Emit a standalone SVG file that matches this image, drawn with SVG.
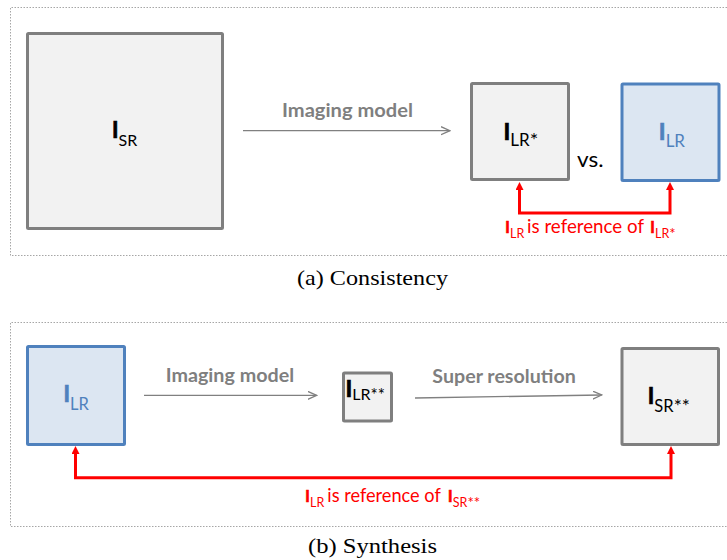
<svg xmlns="http://www.w3.org/2000/svg" width="727" height="560" viewBox="0 0 727 560">
<style>
text{font-family:Lato,"Open Sans","Liberation Sans",sans-serif}
.panel{fill:none;stroke:#a6a6a6;stroke-width:1;stroke-dasharray:1.5,1.5}
.gbox{fill:#f2f2f2;stroke:#7f7f7f;stroke-width:3}
.bbox{fill:#dce6f2;stroke:#4f81bd;stroke-width:3}
.blk{fill:#000}
.blu{fill:#4f81bd}
.red{fill:#ff0000}
.big{font-weight:bold;stroke-width:0.7}
.blk .big{stroke:#000}
.blu .big{stroke:#4f81bd}
.red .big{stroke:#ff0000;stroke-width:0.5}
.glbl{fill:#7f7f7f;font-weight:bold;font-size:18px}
.garrow{fill:none;stroke:#808080;stroke-width:1.3;marker-end:url(#open)}
.rarrow{fill:none;stroke:#ff0000;stroke-width:3;marker-start:url(#solid);marker-end:url(#solid)}
.cap{font-family:"Liberation Serif","Times New Roman",serif;font-size:21px;fill:#000}
</style>
<defs>
<marker id="open" viewBox="0 0 10 10" refX="9" refY="4.5" markerWidth="10" markerHeight="10" markerUnits="userSpaceOnUse" orient="auto">
<path d="M0,0.5 L9,4.5 L0,8.5" fill="none" stroke="#808080" stroke-width="1.3"/>
</marker>
<marker id="solid" viewBox="0 0 8 8" refX="0" refY="4" markerWidth="8" markerHeight="8" markerUnits="userSpaceOnUse" orient="auto-start-reverse">
<path d="M0,0 L8,4 L0,8 z" fill="#ff0000"/>
</marker>
</defs>

<g id="panels">
<path class="panel" d="M727,7.5 H10.5 V255.5 H727"/>
<path class="panel" d="M727,322.5 H10.5 V526.5 H727"/>
</g>

<g id="connectors">
<line class="garrow" x1="243" y1="130.7" x2="450" y2="130.7"/>
<line class="garrow" x1="144" y1="395.3" x2="316.7" y2="395.3"/>
<line class="garrow" x1="415" y1="398" x2="601.7" y2="395"/>
<path class="rarrow" d="M519.5,190 V213 H670 V190"/>
<path class="rarrow" d="M75.5,454 V477.7 H671 V454"/>
</g>

<g id="labels">
<text class="glbl" x="282" y="116.7" textLength="131" lengthAdjust="spacingAndGlyphs">Imaging model</text>
<text class="glbl" x="165.7" y="381.7" textLength="128.5" lengthAdjust="spacingAndGlyphs">Imaging model</text>
<text class="glbl" x="432.3" y="382.7" textLength="143.5" lengthAdjust="spacingAndGlyphs">Super resolution</text>
<text class="blk" x="577" y="166.7" font-size="22" textLength="26.5" lengthAdjust="spacingAndGlyphs">vs.</text>
</g>

<g id="node-isr">
<rect class="gbox" x="27.5" y="33.5" width="195" height="195" rx="1"/>
<text class="blk" x="112" y="138.3"><tspan class="big" font-size="22">I</tspan><tspan font-size="16" dy="7.4">SR</tspan></text>
</g>

<g id="node-ilr-star">
<rect class="gbox" x="471.5" y="83.5" width="97" height="96" rx="1"/>
<text class="blk" x="503.5" y="140"><tspan class="big" font-size="23">I</tspan><tspan font-size="17" dy="6">LR</tspan><tspan font-size="20" dy="1">*</tspan></text>
</g>

<g id="node-ilr-top">
<rect class="bbox" x="622" y="84" width="97" height="96.5" rx="1"/>
<text class="blu" x="658.8" y="140"><tspan class="big" font-size="23">I</tspan><tspan font-size="17" dy="7">LR</tspan></text>
</g>

<g id="note-top">
<text class="red" x="505" y="233.3"><tspan class="big" font-size="17">I</tspan><tspan font-size="12.5" dy="5">LR</tspan></text>
<text class="red" x="527" y="233.3" font-size="19.5" textLength="117" lengthAdjust="spacingAndGlyphs">is reference of</text>
<text class="red" x="650" y="233.3"><tspan class="big" font-size="17">I</tspan><tspan font-size="12.5" dy="5">LR</tspan><tspan font-size="15" dy="1">*</tspan></text>
</g>

<g id="node-ilr-bottom">
<rect class="bbox" x="27.5" y="346.5" width="97" height="98" rx="1"/>
<text class="blu" x="63.5" y="401.7"><tspan class="big" font-size="22">I</tspan><tspan font-size="16.5" dy="8">LR</tspan></text>
</g>

<g id="node-ilr2">
<rect class="gbox" x="343.5" y="373" width="48" height="48" rx="1"/>
<text class="blk" x="345.5" y="396.7"><tspan class="big" font-size="23">I</tspan><tspan font-size="16" dy="3">LR</tspan><tspan font-size="17" dy="1">**</tspan></text>
</g>

<g id="node-isr2">
<rect class="gbox" x="622" y="348.5" width="96.5" height="96" rx="1"/>
<text class="blk" x="647.8" y="404.3"><tspan class="big" font-size="22">I</tspan><tspan font-size="16.5" dy="8">SR</tspan><tspan font-size="19" dy="1">**</tspan></text>
</g>

<g id="note-bottom">
<text class="red" x="305" y="502.3"><tspan class="big" font-size="17">I</tspan><tspan font-size="12.5" dy="5">LR</tspan></text>
<text class="red" x="327.3" y="502.3" font-size="19.5" textLength="113.5" lengthAdjust="spacingAndGlyphs">is reference of</text>
<text class="red" x="447.8" y="502.3"><tspan class="big" font-size="17">I</tspan><tspan font-size="12.5" dy="5">SR</tspan><tspan font-size="15" dy="1">**</tspan></text>
</g>

<g id="captions">
<text class="cap" x="297" y="285" textLength="151" lengthAdjust="spacingAndGlyphs">(a) Consistency</text>
<text class="cap" x="308" y="553.3" textLength="129" lengthAdjust="spacingAndGlyphs">(b) Synthesis</text>
</g>
</svg>
